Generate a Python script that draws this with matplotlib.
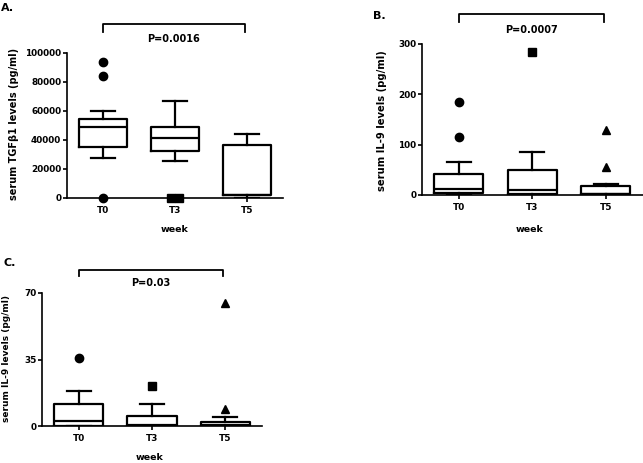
import matplotlib.pyplot as plt
from matplotlib import transforms

plt.rcParams["font.family"] = ["DejaVu Sans"]
plt.rcParams["font.weight"] = "bold"

W, H = 643, 463
LW = 1.6
FS = 7
TICK_FS = 6.4

# DATA
WEEKS = ["T0", "T3", "T5"]

# A. serum TGFb1
A_WHISLO = [27000, 25000, 0]
A_Q1 = [35000, 32000, 2000]
A_MED = [49000, 41000, 2000]
A_Q3 = [54000, 49000, 36000]
A_WHISHI = [60000, 67000, 44000]
A_FLIERS = [[94000, 84000, 0], [0, 0], []]
A_TICKS = [0, 20000, 40000, 60000, 80000, 100000]

# B. serum IL-9
B_WHISLO = [0, 0, 0]
B_Q1 = [3, 2, 1]
B_MED = [12, 10, 2]
B_Q3 = [42, 50, 18]
B_WHISHI = [66, 86, 21]
B_FLIERS = [[185, 115], [285], [130, 55]]
B_TICKS = [0, 100, 200, 300]

# C. serum IL-9
C_WHISLO = [0, 0, 0]
C_Q1 = [0, 0, 0]
C_MED = [2.6, 0.3, 0.5]
C_Q3 = [11.4, 5.4, 2.3]
C_WHISHI = [18.4, 11.6, 4.9]
C_FLIERS = [[36], [21], [65, 9]]
C_TICKS = [0, 35, 70]

MARKERS = ["o", "s", "^"]
FLIER_OFFSETS = {(0, 1): [-0.055, 0.055]}  # side by side when values overlap


def px(x, y):
    return x / W, 1 - y / H


def draw_panel(ax, whislo, q1, med, q3, whishi, fliers, ticks, panel, bracket):
    stats = []
    for i in range(len(WEEKS)):
        stats.append(
            dict(whislo=whislo[i], q1=q1[i], med=med[i], q3=q3[i], whishi=whishi[i], fliers=[])
        )
    line = dict(color="black", linewidth=LW)
    ax.bxp(
        stats,
        positions=range(len(WEEKS)),
        widths=0.67,
        showfliers=False,
        boxprops=line,
        whiskerprops=line,
        capprops=line,
        medianprops=line,
        capwidths=0.33,
    )
    for i, vals in enumerate(fliers):
        offs = FLIER_OFFSETS.get((panel, i), [0] * len(vals))
        for v, o in zip(vals, offs):
            ax.plot(i + o, v, marker=MARKERS[i], color="black", markersize=6, clip_on=False, zorder=5)

    ax.set_xlim(-0.5, 2.5)
    ax.set_ylim(ticks[0], ticks[-1])
    ax.set_yticks(ticks)
    ax.set_xticks(range(len(WEEKS)))
    ax.set_xticklabels(WEEKS)
    for s in ["top", "right"]:
        ax.spines[s].set_visible(False)
    for s in ["left", "bottom"]:
        ax.spines[s].set_linewidth(1.2)
    ax.tick_params(axis="y", length=3, width=1.2, pad=1, labelsize=TICK_FS)
    ax.tick_params(axis="x", length=3, width=1.2, pad=3, labelsize=TICK_FS)
    for lab in ax.get_xticklabels() + ax.get_yticklabels():
        lab.set_fontweight("bold")

    # significance bracket
    x0, x1, ytop, ytip, ytext, ptext = bracket
    tr = transforms.blended_transform_factory(ax.transData, ax.transAxes)
    ax.plot([x0, x0, x1, x1], [ytip, ytop, ytop, ytip], color="black", linewidth=1.3,
            transform=tr, clip_on=False)
    ax.text((x0 + x1) / 2, ytext, ptext, transform=tr, ha="center", va="center",
            fontsize=FS, fontweight="bold")


fig = plt.figure(figsize=(W / 100, H / 100), dpi=100, facecolor="white")

ax_a = fig.add_axes([66.7 / W, 1 - 197.5 / H, 216.3 / W, 144.5 / H])
ax_b = fig.add_axes([422 / W, 1 - 195 / H, 220.5 / W, 151 / H])
ax_c = fig.add_axes([42 / W, 1 - 426 / H, 220 / W, 133 / H])

draw_panel(ax_a, A_WHISLO, A_Q1, A_MED, A_Q3, A_WHISHI, A_FLIERS, A_TICKS, 0,
           (0, 1.97, 1.201, 1.146, 1.097, "P=0.0016"))
draw_panel(ax_b, B_WHISLO, B_Q1, B_MED, B_Q3, B_WHISHI, B_FLIERS, B_TICKS, 1,
           (0, 1.97, 1.199, 1.146, 1.093, "P=0.0007"))
draw_panel(ax_c, C_WHISLO, C_Q1, C_MED, C_Q3, C_WHISHI, C_FLIERS, C_TICKS, 2,
           (0, 1.97, 1.173, 1.128, 1.075, "P=0.03"))

# panel letters
fig.text(*px(1, 8), "A.", fontsize=8, fontweight="bold", va="center", ha="left")
fig.text(*px(373, 16), "B.", fontsize=8, fontweight="bold", va="center", ha="left")
fig.text(*px(4, 263), "C.", fontsize=8, fontweight="bold", va="center", ha="left")

# axis titles
fig.text(*px(14, 124), "serum TGF\u03b21 levels (pg/ml)", rotation=90, fontsize=FS,
         fontweight="bold", ha="center", va="center")
fig.text(*px(382, 121), "serum IL-9 levels (pg/ml)", rotation=90, fontsize=7.2,
         fontweight="bold", ha="center", va="center")
fig.text(*px(7, 358), "serum IL-9 levels (pg/ml)", rotation=90, fontsize=6.5,
         fontweight="bold", ha="center", va="center")
fig.text(*px(175, 229), "week", fontsize=6.8, fontweight="bold", ha="center", va="center")
fig.text(*px(530, 229), "week", fontsize=6.8, fontweight="bold", ha="center", va="center")
fig.text(*px(150, 458), "week", fontsize=6.8, fontweight="bold", ha="center", va="center")

fig.savefig("out.png", dpi=100)
